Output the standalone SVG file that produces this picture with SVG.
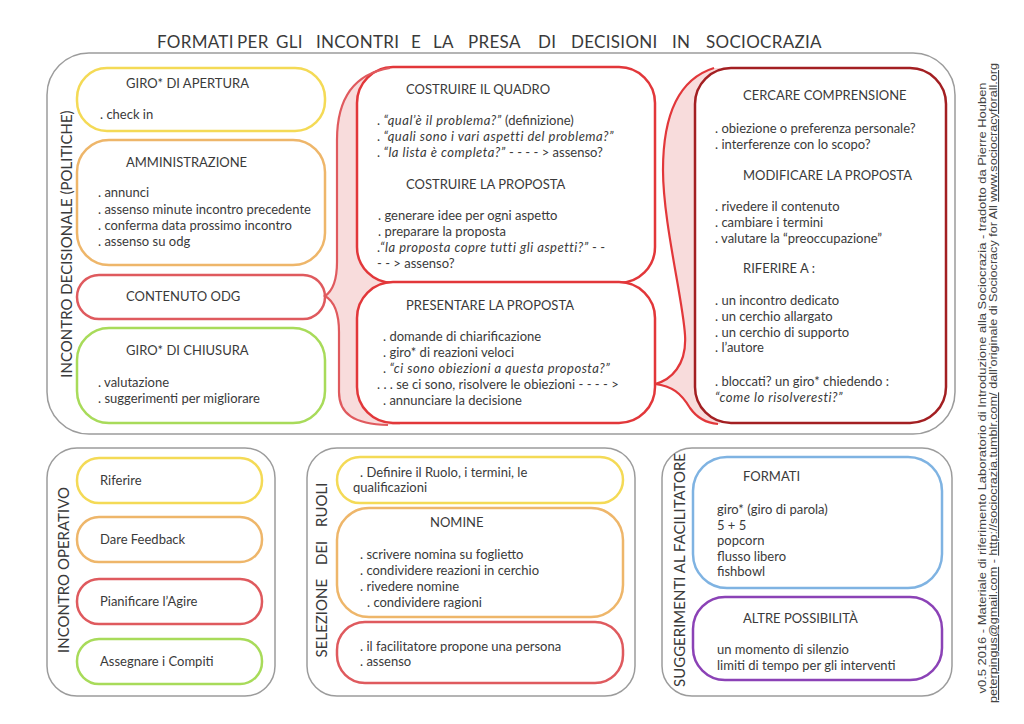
<svg xmlns="http://www.w3.org/2000/svg" width="1024" height="724" viewBox="0 0 1024 724">
<style>
text { font-family: Lato, "Open Sans", "Liberation Sans", sans-serif; font-size: 13px; fill: #3a3a3a; }
.h { font-size: 13px; }
.i { font-style: italic; letter-spacing: 0.5px; }
.lbl { font-size: 15px; text-anchor: middle; }
.panel { fill: none; stroke: #9c9c9c; stroke-width: 1.5; }
.box { fill: #fff; stroke-width: 2.5; }
.yel { stroke: #f4da56; }
.ora { stroke: #eeb66a; }
.red { stroke: #df5a5e; }
.grn { stroke: #a8db5a; }
.mred { stroke: #e2373a; }
.dred { stroke: #a31f22; }
.blu { stroke: #7fb3e2; }
.pur { stroke: #8b42b6; }
.brfill { fill: #f8dcdc; stroke: none; }
.brline { fill: none; stroke-width: 2.2; }
.foot { font-family: "Liberation Sans", Arial, sans-serif; font-size: 11px; fill: #444; text-anchor: middle; }
.u { text-decoration: underline; }
</style>

<g id="title">
  <text style="font-size:17px;letter-spacing:0.3px" y="48">
    <tspan x="157">FORMATI</tspan><tspan x="237">PER</tspan><tspan x="276">GLI</tspan><tspan x="316">INCONTRI</tspan><tspan x="411">E</tspan><tspan x="433">LA</tspan><tspan x="468">PRESA</tspan><tspan x="538">DI</tspan><tspan x="571">DECISIONI</tspan><tspan x="672">IN</tspan><tspan x="706">SOCIOCRAZIA</tspan>
  </text>
</g>

<g id="panel-decisionale">
  <rect class="panel" x="47" y="53" width="908" height="381" rx="42"/>
  <text class="lbl" transform="translate(72,244) rotate(-90)">INCONTRO DECISIONALE (POLITICHE)</text>
</g>

<g id="connectors">
  <path class="brfill" d="M390 68 C352 74 337 100 337 140 L337 262 C337 284 331 292 325 296 C332 300 339 310 339 332 L339 392 C339 414 354 424 388 425 L400 425 L400 68 Z"/>
  <path class="brfill" d="M714 68 C682 78 663 110 663 170 C663 222 683 300 685 335 C687 365 671 380 655 384 C672 386 681 393 690 408 C697 418 706 423 718 424 L720 424 L720 68 Z"/>
</g>

<g id="giro-apertura">
  <rect class="box yel" x="77" y="68" width="248" height="63" rx="30"/>
  <text class="h" x="126" y="88">GIRO* DI APERTURA</text>
  <text x="100" y="119">. check in</text>
</g>

<g id="amministrazione">
  <rect class="box ora" x="77" y="140" width="248" height="125" rx="32"/>
  <text class="h" x="126" y="167">AMMINISTRAZIONE</text>
  <text x="98" y="197">. annunci</text>
  <text x="98" y="214">. assenso minute incontro precedente</text>
  <text x="98" y="230">. conferma data prossimo incontro</text>
  <text x="98" y="246">. assenso su odg</text>
</g>

<g id="contenuto-odg">
  <rect class="box red" x="77" y="275" width="248" height="44" rx="22"/>
  <text class="h" x="126" y="301">CONTENUTO ODG</text>
</g>

<g id="giro-chiusura">
  <rect class="box grn" x="77" y="328" width="248" height="95" rx="32"/>
  <text class="h" x="126" y="355">GIRO* DI CHIUSURA</text>
  <text x="98" y="387">. valutazione</text>
  <text x="98" y="403">. suggerimenti per migliorare</text>
</g>

<g id="costruire">
  <rect class="box mred" x="357" y="67" width="298" height="216" rx="36"/>
  <text class="h" x="406" y="94">COSTRUIRE IL QUADRO</text>
  <text x="377" y="125">. <tspan class="i">“qual’è il problema?”</tspan> (definizione)</text>
  <text x="377" y="141">. <tspan class="i">“quali sono i vari aspetti del problema?”</tspan></text>
  <text x="377" y="157">. <tspan class="i">“la lista è completa?”</tspan> - - - - &gt; assenso?</text>
  <text class="h" x="406" y="189">COSTRUIRE LA PROPOSTA</text>
  <text x="378" y="220">. generare idee per ogni aspetto</text>
  <text x="378" y="236">. preparare la proposta</text>
  <text x="377" y="252">.<tspan class="i">“la proposta copre tutti gli aspetti?”</tspan> - -</text>
  <text x="377" y="268">- - &gt; assenso?</text>
</g>

<g id="presentare">
  <rect class="box mred" x="357" y="282" width="298" height="141" rx="36"/>
  <text class="h" x="406" y="310">PRESENTARE LA PROPOSTA</text>
  <text x="383" y="341">. domande di chiarificazione</text>
  <text x="383" y="357">. giro* di reazioni veloci</text>
  <text x="383" y="373">. <tspan class="i">“ci sono obiezioni a questa proposta?”</tspan></text>
  <text x="377" y="389">. . . se ci sono, risolvere le obiezioni - - - - &gt;</text>
  <text x="383" y="405">. annunciare la decisione</text>
</g>

<g id="obiezioni">
  <rect class="box dred" x="695" y="68" width="251" height="355" rx="36"/>
  <text class="h" x="743" y="100">CERCARE COMPRENSIONE</text>
  <text x="715" y="133">. obiezione o preferenza personale?</text>
  <text x="715" y="149">. interferenze con lo scopo?</text>
  <text class="h" x="743" y="180">MODIFICARE LA PROPOSTA</text>
  <text x="715" y="211">. rivedere il contenuto</text>
  <text x="715" y="227">. cambiare i termini</text>
  <text x="715" y="243">. valutare la “preoccupazione”</text>
  <text class="h" x="743" y="273">RIFERIRE A :</text>
  <text x="715" y="305">. un incontro dedicato</text>
  <text x="715" y="321">. un cerchio allargato</text>
  <text x="715" y="337">. un cerchio di supporto</text>
  <text x="715" y="352">. l’autore</text>
  <text x="715" y="386">. bloccati? un giro* chiedendo :</text>
  <text x="715" y="402" class="i">“come lo risolveresti?”</text>
</g>

<g id="connector-lines">
  <path class="brline" stroke="#e05a5e" d="M390 68 C352 74 337 100 337 140 L337 262 C337 284 331 292 325 296 C332 300 339 310 339 332 L339 392 C339 414 354 424 388 425"/>
  <path class="brline" stroke="#e2373a" d="M714 68 C682 78 663 110 663 170 C663 222 683 300 685 335 C687 365 671 380 655 384 C672 386 681 393 690 408 C697 418 706 423 718 424"/>
</g>

<g id="panel-operativo">
  <rect class="panel" x="47" y="448" width="228" height="248" rx="30"/>
  <text class="lbl" transform="translate(69,570) rotate(-90)">INCONTRO OPERATIVO</text>
</g>
<g id="riferire">
  <rect class="box yel" x="77" y="458" width="185" height="45" rx="22"/>
  <text x="100" y="485">Riferire</text>
</g>
<g id="feedback">
  <rect class="box ora" x="77" y="517" width="185" height="45" rx="22"/>
  <text x="100" y="544">Dare Feedback</text>
</g>
<g id="pianificare">
  <rect class="box red" x="77" y="579" width="185" height="45" rx="22"/>
  <text x="100" y="606">Pianificare l’Agire</text>
</g>
<g id="assegnare">
  <rect class="box grn" x="77" y="639" width="185" height="45" rx="22"/>
  <text x="100" y="666">Assegnare i Compiti</text>
</g>

<g id="panel-ruoli">
  <rect class="panel" x="307" y="448" width="328" height="248" rx="30"/>
  <text class="lbl" style="word-spacing:10px" transform="translate(327,570) rotate(-90)">SELEZIONE DEI RUOLI</text>
</g>
<g id="definire">
  <rect class="box yel" x="337" y="457" width="286" height="46" rx="23"/>
  <text x="360" y="477">. Definire il Ruolo, i termini, le</text>
  <text x="353" y="492">qualificazioni</text>
</g>
<g id="nomine">
  <rect class="box ora" x="337" y="508" width="286" height="109" rx="32"/>
  <text class="h" x="430" y="527">NOMINE</text>
  <text x="360" y="559">. scrivere nomina su foglietto</text>
  <text x="360" y="575">. condividere reazioni in cerchio</text>
  <text x="360" y="591">. rivedere nomine</text>
  <text x="367" y="607">. condividere ragioni</text>
</g>
<g id="proposta-persona">
  <rect class="box red" x="337" y="622" width="286" height="61" rx="28"/>
  <text x="360" y="651">. il facilitatore propone una persona</text>
  <text x="360" y="666">. assenso</text>
</g>

<g id="panel-suggerimenti">
  <rect class="panel" x="662" y="448" width="290" height="248" rx="30"/>
  <text class="lbl" transform="translate(685,570) rotate(-90)">SUGGERIMENTI AL FACILITATORE</text>
</g>
<g id="formati">
  <rect class="box blu" x="693" y="457" width="249" height="131" rx="34"/>
  <text class="h" x="743" y="481">FORMATI</text>
  <text x="717" y="514">giro* (giro di parola)</text>
  <text x="717" y="530">5 + 5</text>
  <text x="717" y="545">popcorn</text>
  <text x="717" y="561">flusso libero</text>
  <text x="717" y="576">fishbowl</text>
</g>
<g id="altre">
  <rect class="box pur" x="693" y="597" width="249" height="83" rx="32"/>
  <text class="h" x="743" y="623">ALTRE POSSIBILITÀ</text>
  <text x="717" y="654">un momento di silenzio</text>
  <text x="717" y="670">limiti di tempo per gli interventi</text>
</g>

<g id="credits">
  <text class="foot" transform="translate(986,388) rotate(-90)" textLength="611" lengthAdjust="spacingAndGlyphs">v0.5 2016 - Materiale di riferimento Laboratorio di Introduzione alla Sociocrazia - tradotto da Pierre Houben</text>
  <text class="foot" transform="translate(997,383) rotate(-90)" textLength="640" lengthAdjust="spacingAndGlyphs"><tspan class="u">peterpingus@gmail.com</tspan> - <tspan class="u">http://sociocrazia.tumblr.com/</tspan> dall’originale di Sociocracy for All <tspan class="u">www.sociocracyforall.org</tspan></text>
</g>
</svg>
